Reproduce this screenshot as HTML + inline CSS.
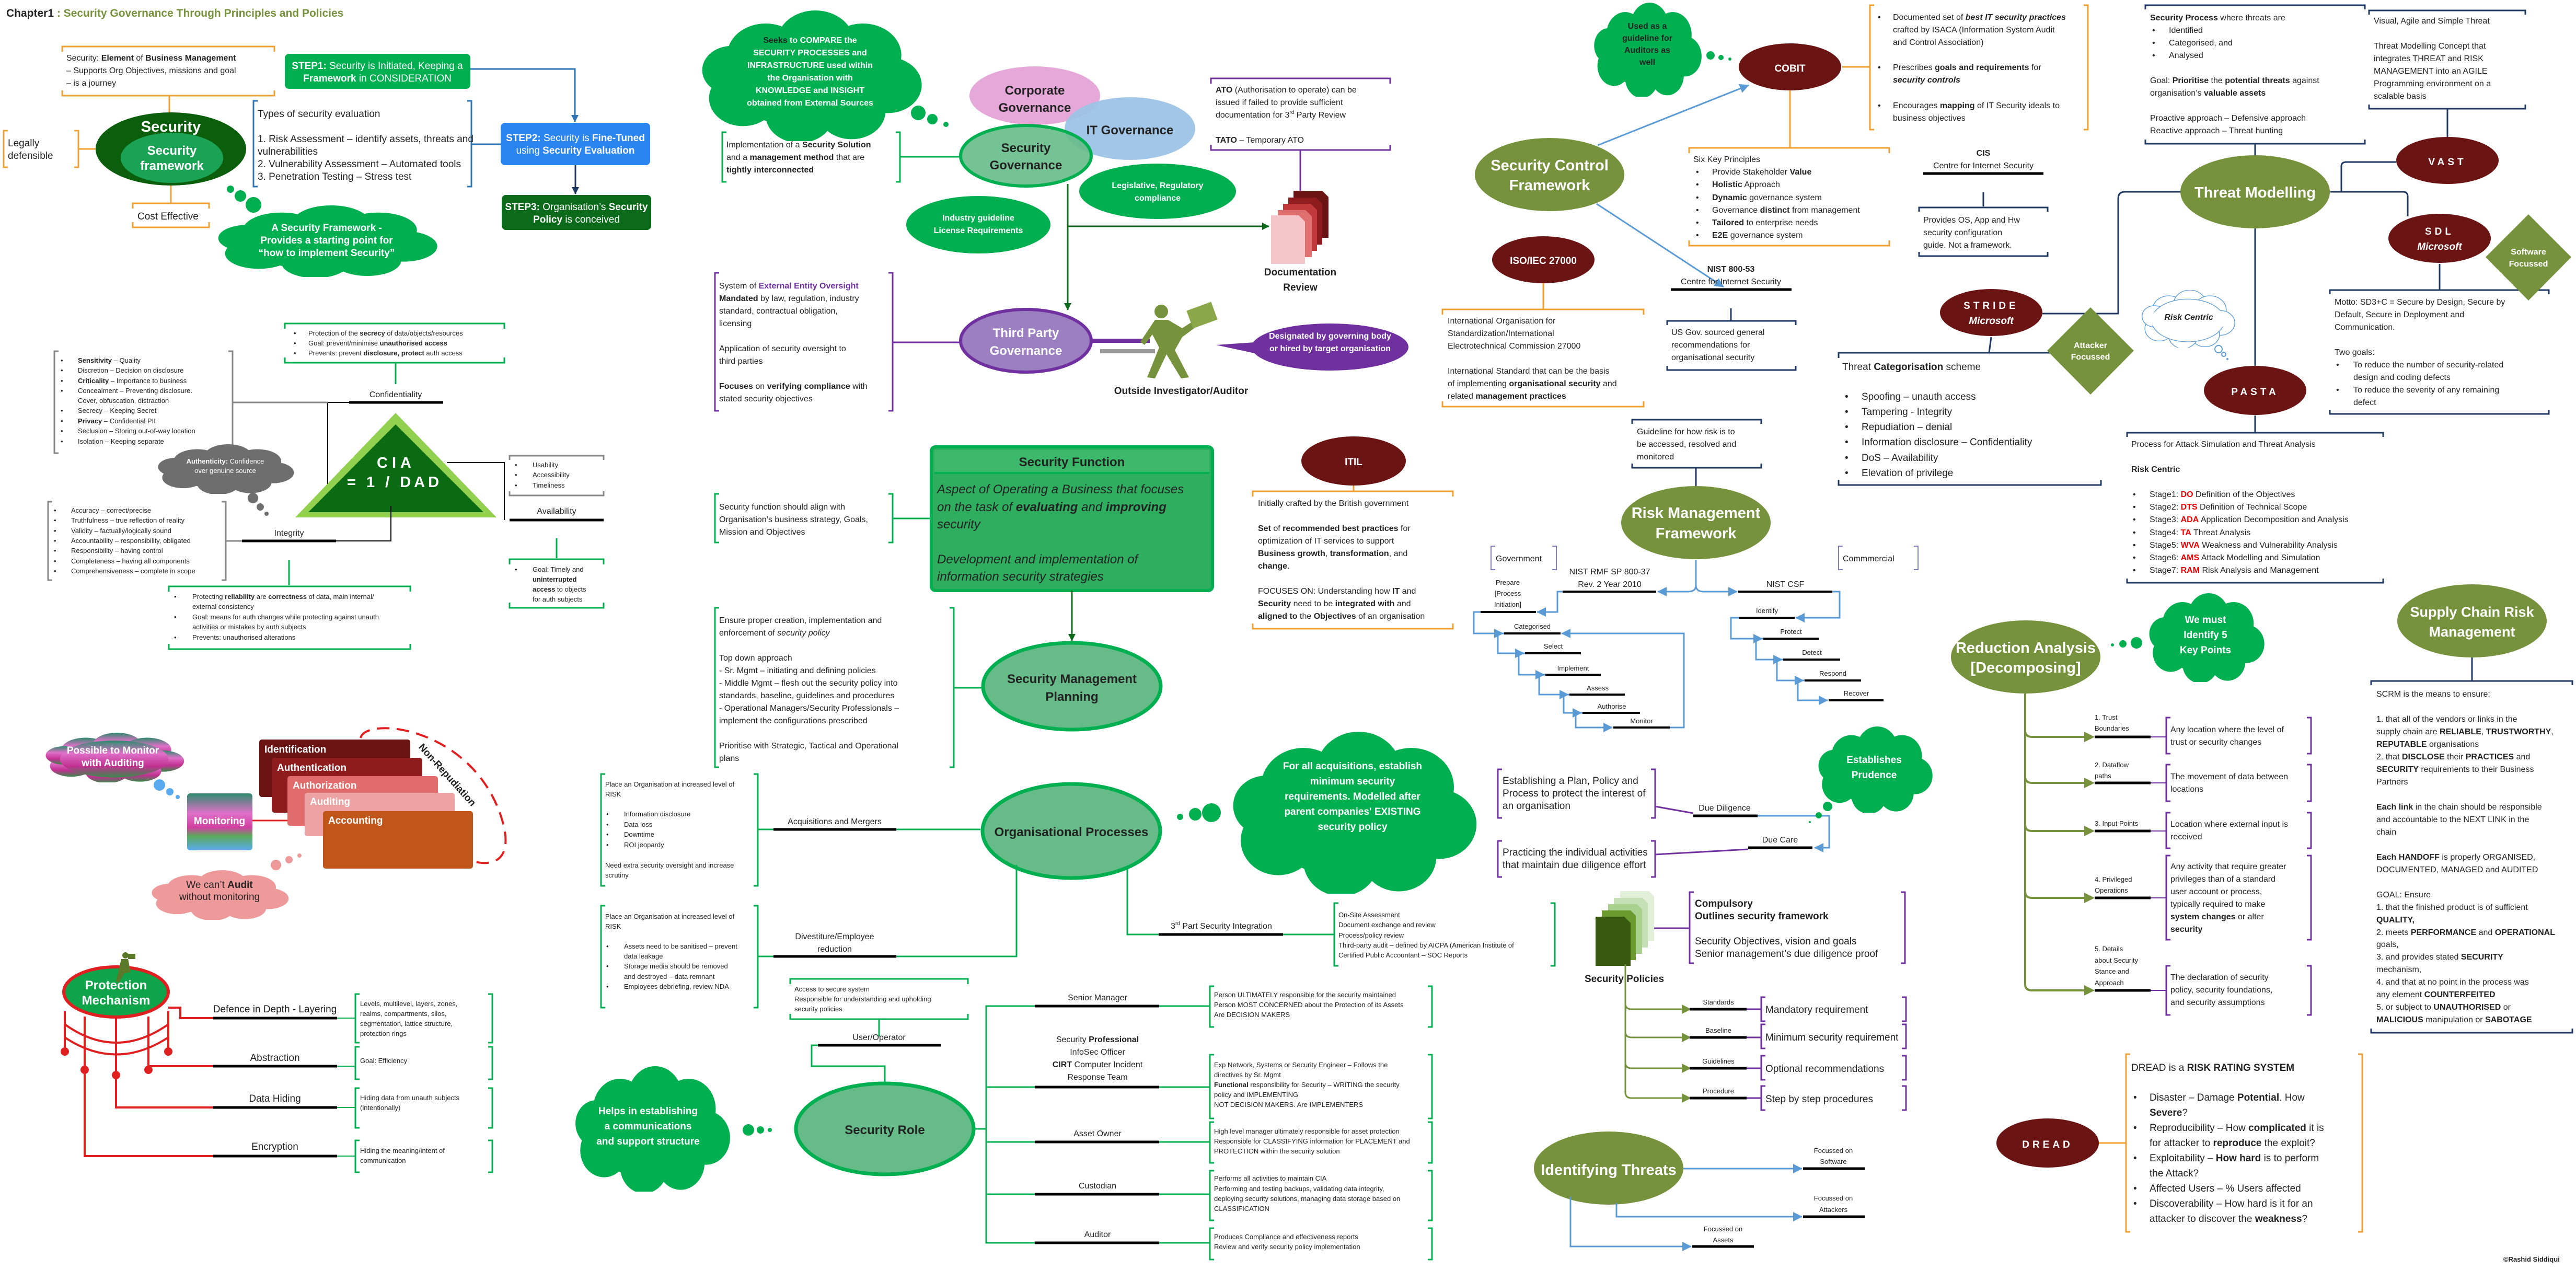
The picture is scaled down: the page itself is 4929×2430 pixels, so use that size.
<!DOCTYPE html>
<html><head><meta charset="utf-8"><style>
html,body{margin:0;padding:0;background:#fff;}
svg{display:block}
text{font-family:"Liberation Sans",sans-serif;font-size:16px;fill:#222}
.s{font-size:13px}.m{font-size:19px}.l{font-size:24px}.xl{font-size:29px}
.b{font-weight:bold}.i{font-style:italic}
.w{fill:#fff}.c{text-anchor:middle}
.hb,.vb{fill:none;stroke-width:3}
</style></head><body>
<svg width="4929" height="2430" viewBox="0 0 4929 2430" xmlns="http://www.w3.org/2000/svg">
<defs>
<symbol id="cl" viewBox="0 0 100 70" preserveAspectRatio="none">
<circle cx="30" cy="24" r="17"/><circle cx="52" cy="17" r="17"/><circle cx="73" cy="24" r="17"/><circle cx="84" cy="40" r="15"/><circle cx="68" cy="54" r="15"/><circle cx="45" cy="56" r="15"/><circle cx="20" cy="47" r="15"/><circle cx="15" cy="32" r="13"/><ellipse cx="50" cy="37" rx="38" ry="26"/>
</symbol>
<marker id="ab" markerWidth="8" markerHeight="8" refX="7" refY="4" orient="auto" markerUnits="userSpaceOnUse"><path d="M0,0 L8,4 L0,8z" fill="#5b9bd5"/></marker>
<marker id="abl" markerWidth="14" markerHeight="14" refX="13" refY="7" orient="auto" markerUnits="userSpaceOnUse"><path d="M0,0 L14,7 L0,14z" fill="#2e75b6"/></marker>
<marker id="abn" markerWidth="14" markerHeight="14" refX="13" refY="7" orient="auto" markerUnits="userSpaceOnUse"><path d="M0,0 L14,7 L0,14z" fill="#1f3864"/></marker>
<marker id="ag" markerWidth="14" markerHeight="14" refX="13" refY="7" orient="auto" markerUnits="userSpaceOnUse"><path d="M0,0 L14,7 L0,14z" fill="#0b6b1a"/></marker>
<marker id="ao" markerWidth="18" markerHeight="18" refX="17" refY="9" orient="auto" markerUnits="userSpaceOnUse"><path d="M0,0 L18,9 L0,18z" fill="#76923c"/></marker>
<marker id="ar" markerWidth="18" markerHeight="18" refX="17" refY="9" orient="auto" markerUnits="userSpaceOnUse"><path d="M0,0 L18,9 L0,18z" fill="#e02020"/></marker>
<marker id="abb" markerWidth="18" markerHeight="18" refX="17" refY="9" orient="auto" markerUnits="userSpaceOnUse"><path d="M0,0 L18,9 L0,18z" fill="#5b9bd5"/></marker>
</defs>
<rect width="4929" height="2430" fill="#fff"/>

<text x="12" y="32" class="m b" style="font-size:21px">Chapter1 <tspan fill="#76923c">: Security Governance Through Principles and Policies</tspan></text>

<!-- ===== TOP LEFT ===== -->
<path class="hb" stroke="#f0a030" d="M119,99 V89 H525 V99 M119,173 V183 H525 V173"/>
<text x="127" y="116">Security: <tspan class="b">Element</tspan> of <tspan class="b">Business Management</tspan></text>
<text x="127" y="140">– Supports Org Objectives, missions and goal</text>
<text x="127" y="164">– is a journey</text>
<line x1="324" y1="183" x2="324" y2="216" stroke="#f0a030" stroke-width="3"/>
<ellipse cx="327" cy="285" rx="144" ry="70" fill="#0b5e0b"/>
<text x="327" y="252" class="xl b w c">Security</text>
<ellipse cx="329" cy="302" rx="98" ry="48" fill="#1aa355"/>
<text x="329" y="296" class="l b w c">Security</text>
<text x="329" y="325" class="l b w c">framework</text>
<path class="vb" stroke="#f0a030" d="M15,250 H7 V320 H15 M142,250 H150 V320 H142 M150,285 H183"/>
<text x="15" y="280" class="m">Legally</text><text x="15" y="304" class="m">defensible</text>
<line x1="327" y1="355" x2="327" y2="389" stroke="#f0a030" stroke-width="3"/>
<path class="hb" stroke="#f0a030" d="M254,399 V389 H400 V399 M254,425 V435 H400 V425"/>
<text x="263" y="420" class="m">Cost Effective</text>
<rect x="545" y="103" width="355" height="67" rx="8" fill="#00b050"/>
<text x="722" y="132" class="m w c"><tspan class="b">STEP1:</tspan> Security is Initiated, Keeping a</text>
<text x="722" y="156" class="m w c"><tspan class="b">Framework</tspan> in CONSIDERATION</text>
<path class="vb" stroke="#2e75b6" d="M493,193 H485 V357 H493 M894,193 H902 V357 H894"/>
<text x="493" y="224" class="m">Types of security evaluation</text>
<text x="493" y="272" class="m">1. Risk Assessment – identify assets, threats and</text>
<text x="493" y="296" class="m">vulnerabilities</text>
<text x="493" y="320" class="m">2. Vulnerability Assessment – Automated tools</text>
<text x="493" y="344" class="m">3. Penetration Testing – Stress test</text>
<path d="M900,132 H1100 V233" stroke="#2e75b6" stroke-width="3" fill="none" marker-end="url(#abl)"/>
<line x1="902" y1="276" x2="958" y2="276" stroke="#2e75b6" stroke-width="3"/>
<rect x="958" y="235" width="286" height="81" rx="8" fill="#2a85f0"/>
<text x="1101" y="270" class="m w c"><tspan class="b">STEP2:</tspan> Security is <tspan class="b">Fine-Tuned</tspan></text>
<text x="1101" y="294" class="m w c">using <tspan class="b">Security Evaluation</tspan></text>
<line x1="1101" y1="316" x2="1101" y2="371" stroke="#1f3864" stroke-width="3" marker-end="url(#abn)"/>
<rect x="960" y="373" width="286" height="67" rx="8" fill="#0b6b1a"/>
<text x="1103" y="402" class="m w c"><tspan class="b">STEP3:</tspan> Organisation’s <tspan class="b">Security</tspan></text>
<text x="1103" y="426" class="m w c"><tspan class="b">Policy</tspan> is conceived</text>
<circle cx="441" cy="362" r="7" fill="#00b050"/><circle cx="460" cy="375" r="11" fill="#00b050"/><circle cx="485" cy="392" r="15" fill="#00b050"/>
<use href="#cl" x="409" y="393" width="432" height="137" fill="#00b050"/>
<text x="625" y="442" class="m b w c">A Security Framework  -</text>
<text x="625" y="466" class="m b w c">Provides a starting point for</text>
<text x="625" y="490" class="m b w c">“how to implement Security”</text>

<!-- ===== CIA ===== -->
<path class="hb" stroke="#00b050" d="M545,629 V619 H965 V629 M545,684 V694 H965 V684"/>
<g class="s"><text x="562" y="642" class="s">•</text><text x="590" y="642" class="s">Protection of the <tspan class="b">secrecy</tspan> of data/objects/resources</text>
<text x="562" y="661" class="s">•</text><text x="590" y="661" class="s">Goal: prevent/minimise <tspan class="b">unauthorised access</tspan></text>
<text x="562" y="680" class="s">•</text><text x="590" y="680" class="s">Prevents: prevent <tspan class="b">disclosure, protect</tspan> auth access</text></g>
<line x1="757" y1="694" x2="757" y2="735" stroke="#00b050" stroke-width="3"/>
<text x="757" y="760" class="c">Confidentiality</text>
<line x1="668" y1="770" x2="848" y2="770" stroke="#000" stroke-width="5"/>
<path d="M627,933 V770 H668" stroke="#000" stroke-width="2" fill="none"/>
<path class="vb" stroke="#888" stroke-width="2" d="M112,672 H104 V867 H112 M437,672 H445 V867 H437 M445,770 H627"/>
<g>
<text x="116" y="694" class="s">•</text><text x="149" y="694" class="s"><tspan class="b">Sensitivity</tspan> – Quality</text>
<text x="116" y="713" class="s">•</text><text x="149" y="713" class="s">Discretion – Decision on disclosure</text>
<text x="116" y="733" class="s">•</text><text x="149" y="733" class="s"><tspan class="b">Criticality</tspan> – Importance to business</text>
<text x="116" y="752" class="s">•</text><text x="149" y="752" class="s">Concealment – Preventing disclosure.</text>
<text x="149" y="771" class="s">Cover, obfuscation, distraction</text>
<text x="116" y="790" class="s">•</text><text x="149" y="790" class="s">Secrecy – Keeping Secret</text>
<text x="116" y="810" class="s">•</text><text x="149" y="810" class="s"><tspan class="b">Privacy</tspan> – Confidential PII</text>
<text x="116" y="829" class="s">•</text><text x="149" y="829" class="s">Seclusion – Storing out-of-way location</text>
<text x="116" y="849" class="s">•</text><text x="149" y="849" class="s">Isolation – Keeping separate</text>
</g>
<polygon points="757,790 950,990 565,990" fill="#92d050"/>
<polygon points="757,812 925,980 590,980" fill="#0a6b12"/>
<text x="758" y="895" class="xl b w c" letter-spacing="8">CIA</text>
<text x="755" y="932" class="xl b w c" letter-spacing="6">= 1 / DAD</text>
<use href="#cl" x="297" y="850" width="268" height="95" fill="#6e6e6e"/>
<text x="431" y="887" class="s b w c">Authenticity: <tspan font-weight="normal">Confidence</tspan></text>
<text x="431" y="905" class="s w c">over genuine source</text>
<circle cx="484" cy="953" r="10" fill="#6e6e6e"/><circle cx="498" cy="970" r="7" fill="#6e6e6e"/><circle cx="510" cy="983" r="4" fill="#6e6e6e"/>
<path class="vb" stroke="#888" stroke-width="2" d="M100,960 H92 V1110 H100 M424,960 H432 V1110 H424 M432,1035 H463"/>
<g>
<text x="103" y="981" class="s">•</text><text x="136" y="981" class="s">Accuracy – correct/precise</text>
<text x="103" y="1000" class="s">•</text><text x="136" y="1000" class="s">Truthfulness – true reflection of reality</text>
<text x="103" y="1020" class="s">•</text><text x="136" y="1020" class="s">Validity – factually/logically sound</text>
<text x="103" y="1039" class="s">•</text><text x="136" y="1039" class="s">Accountability – responsibility, obligated</text>
<text x="103" y="1058" class="s">•</text><text x="136" y="1058" class="s">Responsibility – having control</text>
<text x="103" y="1078" class="s">•</text><text x="136" y="1078" class="s">Completeness – having all components</text>
<text x="103" y="1097" class="s">•</text><text x="136" y="1097" class="s">Comprehensiveness – complete in scope</text>
</g>
<text x="553" y="1025" class="c">Integrity</text>
<line x1="463" y1="1035" x2="643" y2="1035" stroke="#000" stroke-width="5"/>
<path d="M643,1035 H748 V968" stroke="#000" stroke-width="2" fill="none"/>
<line x1="553" y1="1072" x2="553" y2="1120" stroke="#00b050" stroke-width="3"/>
<path class="hb" stroke="#00b050" d="M323,1132 V1122 H785 V1132 M323,1232 V1242 H785 V1232"/>
<text x="333" y="1146" class="s">•</text><text x="368" y="1146" class="s">Protecting <tspan class="b">reliability</tspan> are <tspan class="b">correctness</tspan> of data, main internal/</text>
<text x="368" y="1165" class="s">external consistency</text>
<text x="333" y="1185" class="s">•</text><text x="368" y="1185" class="s">Goal: means for auth changes while protecting against unauth</text>
<text x="368" y="1204" class="s">activities or mistakes by auth subjects</text>
<text x="333" y="1224" class="s">•</text><text x="368" y="1224" class="s">Prevents: unauthorised alterations</text>
<path d="M855,885 H965 V995" stroke="#000" stroke-width="2" fill="none"/>
<path class="hb" stroke="#888" stroke-width="2" d="M975,880 V872 H1155 V880 M975,940 V948 H1155 V940"/>
<text x="985" y="894" class="s">•</text><text x="1019" y="894" class="s">Usability</text>
<text x="985" y="913" class="s">•</text><text x="1019" y="913" class="s">Accessibility</text>
<text x="985" y="933" class="s">•</text><text x="1019" y="933" class="s">Timeliness</text>
<text x="1065" y="983" class="c">Availability</text>
<line x1="975" y1="995" x2="1155" y2="995" stroke="#000" stroke-width="5"/>
<line x1="1065" y1="1030" x2="1065" y2="1068" stroke="#00b050" stroke-width="3"/>
<path class="hb" stroke="#00b050" d="M975,1080 V1070 H1155 V1080 M975,1153 V1163 H1155 V1153"/>
<text x="985" y="1094" class="s">•</text><text x="1019" y="1094" class="s">Goal: Timely and</text>
<text x="1019" y="1113" class="s b">uninterrupted</text>
<text x="1019" y="1132" class="s"><tspan class="b">access</tspan> to objects</text>
<text x="1019" y="1151" class="s">for auth subjects</text>

<!-- ===== AAA ===== -->
<defs><linearGradient id="pg" x1="0" y1="0" x2="0" y2="1"><stop offset="0" stop-color="#2e8b6e"/><stop offset="0.35" stop-color="#e070c8"/><stop offset="0.7" stop-color="#c03090"/><stop offset="1" stop-color="#3a8a4a"/></linearGradient>
<linearGradient id="mg" x1="0" y1="0" x2="0" y2="1"><stop offset="0" stop-color="#2e8b6e"/><stop offset="0.35" stop-color="#e070c8"/><stop offset="0.6" stop-color="#d040a0"/><stop offset="0.75" stop-color="#5aaa5a"/><stop offset="1" stop-color="#5aaaf0"/></linearGradient></defs>
<use href="#cl" x="82" y="1402" width="273" height="95" fill="url(#pg)"/>
<text x="216" y="1442" class="m b w c">Possible to Monitor</text>
<text x="216" y="1466" class="m b w c">with Auditing</text>
<circle cx="305" cy="1502" r="11" fill="#5aaaf0"/><circle cx="325" cy="1515" r="7" fill="#5aaaf0"/><circle cx="340" cy="1525" r="4" fill="#5aaaf0"/>
<rect x="358" y="1518" width="125" height="109" rx="6" fill="url(#mg)"/>
<text x="420" y="1577" class="m b w c">Monitoring</text>
<line x1="483" y1="1570" x2="578" y2="1570" stroke="#e02020" stroke-width="3" marker-end="url(#ar)"/>
<rect x="496" y="1415" width="289" height="110" rx="5" fill="#6b1414"/>
<text x="506" y="1440" class="m b w">Identification</text>
<rect x="520" y="1450" width="288" height="105" rx="5" fill="#8e1c1c"/>
<text x="530" y="1475" class="m b w">Authentication</text>
<rect x="550" y="1485" width="288" height="95" rx="5" fill="#e06c6c"/>
<text x="560" y="1509" class="m b w">Authorization</text>
<rect x="583" y="1517" width="287" height="83" rx="5" fill="#eda3a3"/>
<text x="593" y="1540" class="m b w">Auditing</text>
<rect x="618" y="1552" width="287" height="110" rx="5" fill="#c0561a"/>
<text x="628" y="1576" class="m b w">Accounting</text>
<path d="M690,1412 C700,1370 900,1390 958,1560 C985,1640 950,1660 905,1648" stroke="#e02020" stroke-width="4" stroke-dasharray="24,14" fill="none"/>
<text x="800" y="1430" class="m b" transform="rotate(48 800 1430)">Non-Repudiation</text>
<use href="#cl" x="285" y="1665" width="270" height="95" fill="#ef9a9a"/>
<text x="420" y="1699" class="m c">We can’t <tspan class="b">Audit</tspan></text>
<text x="420" y="1722" class="m c">without monitoring</text>
<circle cx="528" cy="1655" r="10" fill="#ef9a9a"/><circle cx="553" cy="1645" r="7" fill="#ef9a9a"/><circle cx="573" cy="1637" r="4" fill="#ef9a9a"/>

<!-- ===== Protection ===== -->
<g stroke="#e02020" stroke-width="4" fill="none">
<path d="M124,1935 V2012 M162,1945 V2047 M222,1948 V2057 M284,1945 V2047 M322,1935 V2012"/>
<path d="M124,1960 Q222,2030 322,1960 M124,1985 Q222,2050 322,1985"/>
<path d="M322,1928 H345 V1948 H408 M284,2040 H408 M222,2057 V2119 H408 M162,2047 V2212 H408"/>
</g>
<g fill="#e02020"><circle cx="124" cy="2012" r="8"/><circle cx="162" cy="2047" r="8"/><circle cx="222" cy="2057" r="8"/><circle cx="284" cy="2047" r="8"/><circle cx="322" cy="2012" r="8"/></g>
<ellipse cx="222" cy="1898" rx="100" ry="48" fill="#0fa34a" stroke="#e02020" stroke-width="6"/>
<text x="222" y="1893" class="l b w c">Protection</text>
<text x="222" y="1922" class="l b w c">Mechanism</text>
<g fill="#5a7a2a"><circle cx="240" cy="1828" r="6"/><path d="M232,1835 L245,1835 L250,1860 L238,1862 L228,1880 L222,1878z"/><rect x="245" y="1825" width="14" height="10"/></g>
<text x="526" y="1937" class="m c">Defence in Depth - Layering</text>
<text x="526" y="2030" class="m c">Abstraction</text>
<text x="526" y="2108" class="m c">Data Hiding</text>
<text x="526" y="2200" class="m c">Encryption</text>
<g stroke="#000" stroke-width="5"><line x1="408" y1="1948" x2="645" y2="1948"/><line x1="408" y1="2040" x2="645" y2="2040"/><line x1="408" y1="2119" x2="645" y2="2119"/><line x1="408" y1="2212" x2="645" y2="2212"/></g>
<g stroke="#00b050" stroke-width="2"><line x1="645" y1="1948" x2="680" y2="1948"/><line x1="645" y1="2040" x2="680" y2="2040"/><line x1="645" y1="2119" x2="680" y2="2119"/><line x1="645" y1="2212" x2="680" y2="2212"/></g>
<path class="vb" stroke="#00b050" d="M688,1902 H680 V1995 H688 M934,1902 H942 V1995 H934 M688,2003 H680 V2065 H688 M934,2003 H942 V2065 H934 M688,2082 H680 V2158 H688 M934,2082 H942 V2158 H934 M688,2182 H680 V2243 H688 M934,2182 H942 V2243 H934"/>
<text x="689" y="1925" class="s">Levels, multilevel, layers, zones,</text>
<text x="689" y="1944" class="s">realms, compartments, silos,</text>
<text x="689" y="1963" class="s">segmentation, lattice structure,</text>
<text x="689" y="1982" class="s">protection rings</text>
<text x="689" y="2034" class="s">Goal: Efficiency</text>
<text x="689" y="2105" class="s">Hiding data from unauth subjects</text>
<text x="689" y="2124" class="s">(intentionally)</text>
<text x="689" y="2206" class="s">Hiding the meaning/intent of</text>
<text x="689" y="2225" class="s">communication</text>

<!-- ===== Governance ===== -->
<use href="#cl" x="1335" y="20" width="433" height="250" fill="#00b050"/>
<g class="b">
<text x="1550" y="82" class="c"><tspan class="b">Seeks</tspan><tspan class="w"> to COMPARE the</tspan></text>
<text x="1550" y="106" class="c w">SECURITY PROCESSES and</text>
<text x="1550" y="130" class="c w">INFRASTRUCTURE used within</text>
<text x="1550" y="154" class="c w">the Organisation with</text>
<text x="1550" y="178" class="c w">KNOWLEDGE and INSIGHT</text>
<text x="1550" y="202" class="c w">obtained from External Sources</text>
</g>
<circle cx="1757" cy="216" r="14" fill="#00b050"/><circle cx="1784" cy="228" r="10" fill="#00b050"/><circle cx="1810" cy="238" r="5" fill="#00b050"/>
<path class="vb" stroke="#00b050" d="M1390,253 H1382 V348 H1390 M1714,253 H1722 V348 H1714 M1722,300 H1840"/>
<text x="1390" y="282">Implementation of a <tspan class="b">Security Solution</tspan></text>
<text x="1390" y="306">and a <tspan class="b">management method</tspan> that are</text>
<text x="1390" y="330" class="b">tightly interconnected</text>
<ellipse cx="1980" cy="183" rx="125" ry="56" fill="#e6a8d8"/>
<text x="1980" y="181" class="l b c">Corporate</text>
<text x="1980" y="214" class="l b c">Governance</text>
<ellipse cx="2162" cy="246" rx="125" ry="60" fill="#9dc3e6" opacity="0.95"/>
<text x="2162" y="257" class="l b c">IT Governance</text>
<ellipse cx="1963" cy="298" rx="125" ry="58" fill="#66bb88" fill-opacity="0.9" stroke="#00b050" stroke-width="6"/>
<text x="1963" y="291" class="l b c">Security</text>
<text x="1963" y="324" class="l b c">Governance</text>
<ellipse cx="1872" cy="430" rx="138" ry="55" fill="#00b050"/>
<text x="1872" y="422" class="b w c">Industry guideline</text>
<text x="1872" y="446" class="b w c">License Requirements</text>
<ellipse cx="2215" cy="366" rx="150" ry="53" fill="#00b050"/>
<text x="2215" y="360" class="b w c">Legislative, Regulatory</text>
<text x="2215" y="384" class="b w c">compliance</text>
<line x1="2043" y1="352" x2="2043" y2="593" stroke="#0b6b1a" stroke-width="3" marker-end="url(#ag)"/>
<line x1="2043" y1="433" x2="2428" y2="433" stroke="#0b6b1a" stroke-width="3" marker-end="url(#ag)"/>
<path class="hb" stroke="#7030a0" d="M2317,160 V150 H2660 V160 M2317,277 V287 H2660 V277"/>
<text x="2326" y="177"><tspan class="b">ATO</tspan> (Authorisation to operate) can be</text>
<text x="2326" y="201">issued if failed to provide sufficient</text>
<text x="2326" y="225">documentation for 3<tspan font-size="10" dy="-7">rd</tspan><tspan dy="7"> Party Review</tspan></text>
<text x="2326" y="273"><tspan class="b">TATO</tspan> – Temporary ATO</text>
<line x1="2488" y1="287" x2="2488" y2="368" stroke="#7030a0" stroke-width="3"/>
<g>
<path d="M2475,365 H2530 L2542,377 V455 H2475z" fill="#6b1414"/>
<path d="M2465,378 H2518 L2530,390 V468 H2465z" fill="#8e1c1c"/>
<path d="M2455,390 H2508 L2520,402 V480 H2455z" fill="#c0393b"/>
<path d="M2445,402 H2498 L2510,414 V492 H2445z" fill="#e07070"/>
<path d="M2432,412 H2485 L2497,424 V505 H2432z" fill="#f4c6c9"/>
</g>
<text x="2488" y="527" class="m b c">Documentation</text>
<text x="2488" y="556" class="m b c">Review</text>
<path class="vb" stroke="#7030a0" d="M1376,522 H1368 V786 H1376 M1700,522 H1708 V786 H1700 M1708,655 H1836"/>
<text x="1376" y="552">System of <tspan class="b" fill="#7030a0">External Entity Oversight</tspan></text>
<text x="1376" y="576"><tspan class="b">Mandated</tspan> by law, regulation, industry</text>
<text x="1376" y="600">standard, contractual obligation,</text>
<text x="1376" y="624">licensing</text>
<text x="1376" y="672">Application of security oversight to</text>
<text x="1376" y="696">third parties</text>
<text x="1376" y="744"><tspan class="b">Focuses</tspan> on <tspan class="b">verifying compliance</tspan> with</text>
<text x="1376" y="768">stated security objectives</text>
<ellipse cx="1963" cy="652" rx="125" ry="60" fill="#9b7fc0" stroke="#7030a0" stroke-width="6"/>
<text x="1963" y="645" class="l b w c">Third Party</text>
<text x="1963" y="679" class="l b w c">Governance</text>
<line x1="2088" y1="652" x2="2200" y2="652" stroke="#7030a0" stroke-width="8"/>
<line x1="2105" y1="672" x2="2210" y2="672" stroke="#999" stroke-width="8"/>
<g fill="#76923c">
<circle cx="2222" cy="596" r="13"/>
<path d="M2210,612 L2235,612 L2262,628 L2290,610 L2296,620 L2262,645 L2248,670 L2275,722 L2260,724 L2232,678 L2210,724 L2195,722 L2218,665 L2205,640 L2190,660 L2182,654 z"/>
<rect x="2275" y="585" width="50" height="36" transform="rotate(-20 2300 603)" fill="#8aa84a"/>
</g>
<text x="2260" y="754" class="m b c" fill="#76923c">Outside Investigator/Auditor</text>
<ellipse cx="2545" cy="664" rx="150" ry="45" fill="#7030a0"/>
<path d="M2400,655 L2327,660 L2410,678z" fill="#7030a0"/>
<text x="2545" y="648" class="b w c">Designated by governing body</text>
<text x="2545" y="672" class="b w c">or hired by target organisation</text>

<!-- ===== Security Function ===== -->
<rect x="1782" y="855" width="538" height="275" rx="8" fill="#2fae60" stroke="#00b050" stroke-width="6"/>
<rect x="1788" y="861" width="526" height="44" fill="#3cb86a"/>
<line x1="1788" y1="905" x2="2314" y2="905" stroke="#00b050" stroke-width="4"/>
<text x="2051" y="892" class="l b c">Security Function</text>
<text x="1793" y="944" class="l i">Aspect of Operating a Business that focuses</text>
<text x="1793" y="978" class="l i">on the task of <tspan class="b">evaluating</tspan> and <tspan class="b">improving</tspan></text>
<text x="1793" y="1011" class="l i">security</text>
<text x="1793" y="1078" class="l i">Development and implementation of</text>
<text x="1793" y="1111" class="l i">information security strategies</text>
<path class="vb" stroke="#00b050" d="M1376,945 H1368 V1038 H1376 M1700,945 H1708 V1038 H1700 M1708,992 H1782"/>
<text x="1376" y="975">Security function should align with</text>
<text x="1376" y="999">Organisation’s business strategy, Goals,</text>
<text x="1376" y="1023">Mission and Objectives</text>
<line x1="2051" y1="1130" x2="2051" y2="1226" stroke="#0b6b1a" stroke-width="3" marker-end="url(#ag)"/>
<ellipse cx="2051" cy="1313" rx="170" ry="83" fill="#66bb88" stroke="#00b050" stroke-width="7"/>
<text x="2051" y="1307" class="l b c">Security Management</text>
<text x="2051" y="1341" class="l b c">Planning</text>
<path class="vb" stroke="#00b050" d="M1376,1163 H1368 V1468 H1376 M1817,1163 H1825 V1468 H1817 M1825,1316 H1879"/>
<text x="1376" y="1192">Ensure proper creation, implementation and</text>
<text x="1376" y="1216">enforcement of <tspan class="i">security policy</tspan></text>
<text x="1376" y="1264">Top down approach</text>
<text x="1376" y="1288"> - Sr. Mgmt – initiating and defining policies</text>
<text x="1376" y="1312"> - Middle Mgmt – flesh out the security policy into</text>
<text x="1376" y="1336">standards, baseline, guidelines and procedures</text>
<text x="1376" y="1360"> - Operational Managers/Security Professionals –</text>
<text x="1376" y="1384">implement the configurations prescribed</text>
<text x="1376" y="1432">Prioritise with Strategic, Tactical and Operational</text>
<text x="1376" y="1456">plans</text>

<!-- ===== ITIL ===== -->
<ellipse cx="2590" cy="882" rx="100" ry="47" fill="#6b1414"/>
<text x="2590" y="890" class="m b w c">ITIL</text>
<line x1="2590" y1="929" x2="2590" y2="940" stroke="#f0a030" stroke-width="3"/>
<path class="hb" stroke="#f0a030" d="M2397,950 V940 H2780 V950 M2397,1193 V1203 H2780 V1193"/>
<text x="2407" y="968">Initially crafted by the British government</text>
<text x="2407" y="1016"><tspan class="b">Set</tspan> of <tspan class="b">recommended best practices</tspan> for</text>
<text x="2407" y="1040">optimization of IT services to support</text>
<text x="2407" y="1064"><tspan class="b">Business growth</tspan>, <tspan class="b">transformation</tspan>, and</text>
<text x="2407" y="1088"><tspan class="b">change</tspan>.</text>
<text x="2407" y="1136">FOCUSES ON: Understanding how <tspan class="b">IT</tspan> and</text>
<text x="2407" y="1160"><tspan class="b">Security</tspan> need to be <tspan class="b">integrated with</tspan> and</text>
<text x="2407" y="1184"><tspan class="b">aligned to</tspan> the <tspan class="b">Objectives</tspan> of an organisation</text>

<!-- ===== Org Processes ===== -->
<use href="#cl" x="2350" y="1400" width="480" height="310" fill="#00b050"/>
<g class="m b">
<text x="2588" y="1472" class="m b w c">For all acquisitions, establish</text>
<text x="2588" y="1501" class="m b w c">minimum security</text>
<text x="2588" y="1530" class="m b w c">requirements. Modelled after</text>
<text x="2588" y="1559" class="m b w c">parent companies' EXISTING</text>
<text x="2588" y="1588" class="m b w c">security policy</text>
</g>
<circle cx="2258" cy="1563" r="6" fill="#00b050"/><circle cx="2287" cy="1558" r="12" fill="#00b050"/><circle cx="2318" cy="1555" r="18" fill="#00b050"/>
<ellipse cx="2050" cy="1590" rx="170" ry="90" fill="#66bb88" stroke="#00b050" stroke-width="7"/>
<text x="2050" y="1600" class="l b c">Organisational Processes</text>
<path class="vb" stroke="#00b050" d="M1158,1481 H1150 V1695 H1158 M1442,1481 H1450 V1695 H1442 M1158,1733 H1150 V1928 H1158 M1442,1733 H1450 V1928 H1442"/>
<text x="1158" y="1505" class="s">Place an Organisation at increased level of</text>
<text x="1158" y="1524" class="s">RISK</text>
<text x="1160" y="1562" class="s">•</text><text x="1194" y="1562" class="s">Information disclosure</text>
<text x="1160" y="1582" class="s">•</text><text x="1194" y="1582" class="s">Data loss</text>
<text x="1160" y="1601" class="s">•</text><text x="1194" y="1601" class="s">Downtime</text>
<text x="1160" y="1621" class="s">•</text><text x="1194" y="1621" class="s">ROI jeopardy</text>
<text x="1158" y="1660" class="s">Need extra security oversight and increase</text>
<text x="1158" y="1679" class="s">scrutiny</text>
<text x="1158" y="1758" class="s">Place an Organisation at increased level of</text>
<text x="1158" y="1777" class="s">RISK</text>
<text x="1160" y="1815" class="s">•</text><text x="1194" y="1815" class="s">Assets need to be sanitised – prevent</text>
<text x="1194" y="1834" class="s">data leakage</text>
<text x="1160" y="1853" class="s">•</text><text x="1194" y="1853" class="s">Storage media should be removed</text>
<text x="1194" y="1873" class="s">and destroyed – data remnant</text>
<text x="1160" y="1892" class="s">•</text><text x="1194" y="1892" class="s">Employees debriefing, review NDA</text>
<path d="M1450,1587 H1876 M1450,1830 H1945 V1655 M2157,1660 V1788 H2553" stroke="#00b050" stroke-width="3" fill="none"/>
<text x="1597" y="1577" class="c">Acquisitions and Mergers</text>
<text x="1597" y="1797" class="c">Divestiture/Employee</text>
<text x="1597" y="1821" class="c">reduction</text>
<text x="2337" y="1777" class="c">3<tspan font-size="10" dy="-7">rd</tspan><tspan dy="7"> Part Security Integration</tspan></text>
<g stroke="#000" stroke-width="5"><line x1="1480" y1="1587" x2="1715" y2="1587"/><line x1="1480" y1="1830" x2="1715" y2="1830"/><line x1="2217" y1="1788" x2="2455" y2="1788"/></g>
<path class="vb" stroke="#00b050" d="M2561,1728 H2553 V1848 H2561 M2967,1728 H2975 V1848 H2967"/>
<text x="2561" y="1755" class="s">On-Site Assessment</text>
<text x="2561" y="1774" class="s">Document exchange and review</text>
<text x="2561" y="1794" class="s">Process/policy review</text>
<text x="2561" y="1813" class="s">Third-party audit – defined by AICPA (American Institute of</text>
<text x="2561" y="1832" class="s">Certified Public Accountant – SOC Reports</text>

<!-- ===== Security Role ===== -->
<path class="hb" stroke="#00b050" d="M1512,1883 V1873 H1852 V1883 M1512,1940 V1950 H1852 V1940"/>
<text x="1520" y="1897" class="s">Access to secure system</text>
<text x="1520" y="1916" class="s">Responsible for understanding and upholding</text>
<text x="1520" y="1935" class="s">security policies</text>
<line x1="1682" y1="1950" x2="1682" y2="1983" stroke="#00b050" stroke-width="3"/>
<text x="1682" y="1990" class="c">User/Operator</text>
<line x1="1565" y1="2000" x2="1800" y2="2000" stroke="#000" stroke-width="5"/>
<path d="M1565,2000 H1553 V2040 H1693 V2075" stroke="#00b050" stroke-width="3" fill="none"/>
<ellipse cx="1693" cy="2160" rx="170" ry="87" fill="#66bb88" stroke="#00b050" stroke-width="7"/>
<text x="1693" y="2170" class="l b c">Security Role</text>
<use href="#cl" x="1095" y="2040" width="305" height="240" fill="#00b050"/>
<text x="1240" y="2132" class="m b w c">Helps in establishing</text>
<text x="1240" y="2161" class="m b w c">a communications</text>
<text x="1240" y="2190" class="m b w c">and support structure</text>
<circle cx="1432" cy="2162" r="11" fill="#00b050"/><circle cx="1455" cy="2162" r="7" fill="#00b050"/><circle cx="1473" cy="2162" r="4" fill="#00b050"/>
<path d="M1866,2160 H1887 M1897,1925 H1887 V2378 H1980 M1887,2080 H1980 M1887,2185 H1980 M1887,2285 H1980 M1887,1925 H1980 M2218,1925 H2315 M2218,2080 H2315 M2218,2185 H2315 M2218,2285 H2315 M2218,2378 H2315" stroke="#00b050" stroke-width="3" fill="none"/>
<g stroke="#000" stroke-width="5"><line x1="1980" y1="1925" x2="2218" y2="1925"/><line x1="1980" y1="2080" x2="2218" y2="2080"/><line x1="1980" y1="2185" x2="2218" y2="2185"/><line x1="1980" y1="2285" x2="2218" y2="2285"/><line x1="1980" y1="2378" x2="2218" y2="2378"/></g>
<text x="2100" y="1914" class="c">Senior Manager</text>
<text x="2100" y="1994" class="c">Security <tspan class="b">Professional</tspan></text>
<text x="2100" y="2018" class="c">InfoSec Officer</text>
<text x="2100" y="2042" class="c"><tspan class="b">CIRT</tspan> Computer Incident</text>
<text x="2100" y="2066" class="c">Response Team</text>
<text x="2100" y="2174" class="c">Asset Owner</text>
<text x="2100" y="2274" class="c">Custodian</text>
<text x="2100" y="2367" class="c">Auditor</text>
<path class="vb" stroke="#00b050" d="M2323,1887 H2315 V1965 H2323 M2732,1887 H2740 V1965 H2732 M2323,2018 H2315 V2140 H2323 M2732,2018 H2740 V2140 H2732 M2323,2147 H2315 V2225 H2323 M2732,2147 H2740 V2225 H2732 M2323,2240 H2315 V2335 H2323 M2732,2240 H2740 V2335 H2732 M2323,2350 H2315 V2410 H2323 M2732,2350 H2740 V2410 H2732"/>
<g>
<text x="2323" y="1908" class="s">Person ULTIMATELY responsible for the security maintained</text>
<text x="2323" y="1927" class="s">Person MOST CONCERNED about the Protection of its Assets</text>
<text x="2323" y="1946" class="s">Are DECISION MAKERS</text>
<text x="2323" y="2042" class="s">Exp Network, Systems or Security Engineer – Follows the</text>
<text x="2323" y="2061" class="s">directives by Sr. Mgmt</text>
<text x="2323" y="2080" class="s"><tspan class="b">Functional</tspan> responsibility for Security – WRITING the security</text>
<text x="2323" y="2099" class="s">policy and IMPLEMENTING</text>
<text x="2323" y="2118" class="s">NOT DECISION MAKERS. Are IMPLEMENTERS</text>
<text x="2323" y="2169" class="s">High level manager ultimately responsible for asset protection</text>
<text x="2323" y="2188" class="s">Responsible for CLASSIFYING information for PLACEMENT and</text>
<text x="2323" y="2207" class="s">PROTECTION within the security solution</text>
<text x="2323" y="2259" class="s">Performs all activities to maintain CIA</text>
<text x="2323" y="2279" class="s">Performing and testing backups, validating data integrity,</text>
<text x="2323" y="2298" class="s">deploying security solutions, managing data storage based on</text>
<text x="2323" y="2317" class="s">CLASSIFICATION</text>
<text x="2323" y="2371" class="s">Produces Compliance and effectiveness reports</text>
<text x="2323" y="2390" class="s">Review and verify security policy implementation</text>
</g>

<!-- ===== Control frameworks ===== -->
<use href="#cl" x="3046" y="5" width="212" height="180" fill="#00b050"/>
<text x="3152" y="55" class="b c">Used as a</text>
<text x="3152" y="78" class="b c">guideline for</text>
<text x="3152" y="101" class="b c">Auditors as</text>
<text x="3152" y="124" class="b c">well</text>
<circle cx="3273" cy="106" r="8" fill="#00b050"/><circle cx="3293" cy="110" r="5" fill="#00b050"/><circle cx="3310" cy="113" r="3" fill="#00b050"/>
<ellipse cx="3425" cy="128" rx="98" ry="45" fill="#6b1414"/>
<text x="3425" y="137" class="m b w c">COBIT</text>
<path d="M3525,128 H3578 M3425,173 V283" stroke="#f0a030" stroke-width="3"/>
<path class="vb" stroke="#f0a030" d="M3586,10 H3578 V248 H3586 M3987,10 H3995 V248 H3987"/>
<text x="3593" y="38">•</text><text x="3622" y="38">Documented set of <tspan class="b i">best IT security practices</tspan></text>
<text x="3622" y="62">crafted by ISACA (Information System Audit</text>
<text x="3622" y="86">and Control Association)</text>
<text x="3593" y="134">•</text><text x="3622" y="134">Prescribes <tspan class="b">goals and requirements</tspan> for</text>
<text x="3622" y="158" class="b i">security controls</text>
<text x="3593" y="207">•</text><text x="3622" y="207">Encourages <tspan class="b">mapping</tspan> of IT Security ideals to</text>
<text x="3622" y="231">business objectives</text>
<path class="hb" stroke="#f0a030" d="M3232,293 V283 H3615 V293 M3232,460 V470 H3615 V460"/>
<text x="3240" y="310">Six Key Principles</text>
<g>
<text x="3245" y="334">•</text><text x="3276" y="334">Provide Stakeholder <tspan class="b">Value</tspan></text>
<text x="3245" y="358">•</text><text x="3276" y="358"><tspan class="b">Holistic</tspan> Approach</text>
<text x="3245" y="383">•</text><text x="3276" y="383"><tspan class="b">Dynamic</tspan> governance system</text>
<text x="3245" y="407">•</text><text x="3276" y="407">Governance <tspan class="b">distinct</tspan> from management</text>
<text x="3245" y="431">•</text><text x="3276" y="431"><tspan class="b">Tailored</tspan> to enterprise needs</text>
<text x="3245" y="455">•</text><text x="3276" y="455"><tspan class="b">E2E</tspan> governance system</text>
</g>
<line x1="3057" y1="278" x2="3346" y2="163" stroke="#5b9bd5" stroke-width="3" marker-end="url(#abb)"/>
<line x1="3055" y1="390" x2="3298" y2="549" stroke="#5b9bd5" stroke-width="3" marker-end="url(#abb)"/>
<ellipse cx="2965" cy="334" rx="143" ry="70" fill="#76923c"/>
<text x="2965" y="326" class="xl b w c">Security Control</text>
<text x="2965" y="364" class="xl b w c">Framework</text>
<text x="3795" y="298" class="b c">CIS</text>
<text x="3795" y="322" class="c">Centre for Internet Security</text>
<line x1="3680" y1="332" x2="3910" y2="332" stroke="#000" stroke-width="5"/>
<line x1="3795" y1="368" x2="3795" y2="395" stroke="#1f3864" stroke-width="3"/>
<path class="hb" stroke="#1f3864" d="M3672,405 V397 H3918 V405 M3672,482 V490 H3918 V482"/>
<text x="3680" y="426">Provides OS, App and Hw</text>
<text x="3680" y="450">security configuration</text>
<text x="3680" y="474">guide. Not a framework.</text>
<ellipse cx="2953" cy="497" rx="98" ry="45" fill="#6b1414"/>
<text x="2953" y="505" class="m b w c">ISO/IEC 27000</text>
<line x1="2953" y1="542" x2="2953" y2="592" stroke="#f0a030" stroke-width="3"/>
<path class="hb" stroke="#f0a030" d="M2760,602 V592 H3145 V602 M2760,768 V778 H3145 V768"/>
<text x="2770" y="619">International Organisation for</text>
<text x="2770" y="643">Standardization/International</text>
<text x="2770" y="667">Electrotechnical Commission 27000</text>
<text x="2770" y="715">International Standard that can be the basis</text>
<text x="2770" y="739">of implementing <tspan class="b">organisational security</tspan> and</text>
<text x="2770" y="763">related <tspan class="b">management practices</tspan></text>
<text x="3312" y="520" class="b c">NIST 800-53</text>
<text x="3312" y="544" class="c">Centre for Internet Security</text>
<line x1="3197" y1="554" x2="3428" y2="554" stroke="#000" stroke-width="5"/>
<line x1="3312" y1="590" x2="3312" y2="614" stroke="#1f3864" stroke-width="3"/>
<path class="hb" stroke="#1f3864" d="M3190,622 V614 H3436 V622 M3190,700 V708 H3436 V700"/>
<text x="3198" y="641">US Gov. sourced general</text>
<text x="3198" y="665">recommendations for</text>
<text x="3198" y="689">organisational security</text>

<!-- ===== RMF ===== -->
<path class="hb" stroke="#1f3864" d="M3123,811 V803 H3370 V811 M3123,887 V895 H3370 V887"/>
<text x="3132" y="831">Guideline for how risk is to</text>
<text x="3132" y="855">be accessed, resolved and</text>
<text x="3132" y="879">monitored</text>
<line x1="3245" y1="895" x2="3245" y2="932" stroke="#1f3864" stroke-width="3"/>
<ellipse cx="3245" cy="1000" rx="143" ry="70" fill="#76923c"/>
<text x="3245" y="991" class="xl b w c">Risk Management</text>
<text x="3245" y="1030" class="xl b w c">Framework</text>
<path d="M2861,1045 H2853 V1090 H2861 M2970,1045 H2978 V1090 H2970 M3526,1045 H3518 V1090 H3526 M3662,1045 H3670 V1090 H3662" stroke="#7f7fbf" stroke-width="2" fill="none"/>
<text x="2862" y="1074">Government</text>
<text x="3526" y="1074">Commmercial</text>
<text x="3080" y="1099" class="c">NIST RMF SP 800-37</text>
<text x="3080" y="1123" class="c">Rev. 2 Year 2010</text>
<text x="3416" y="1123" class="c">NIST CSF</text>
<text x="2885" y="1119" class="s c">Prepare</text><text x="2885" y="1140" class="s c">[Process</text><text x="2885" y="1161" class="s c">Initiation]</text>
<g class="s">
<text x="2932" y="1203" class="s c">Categorised</text><text x="2972" y="1241" class="s c">Select</text><text x="3010" y="1283" class="s c">Implement</text><text x="3057" y="1321" class="s c">Assess</text><text x="3084" y="1356" class="s c">Authorise</text><text x="3141" y="1384" class="s c">Monitor</text>
<text x="3381" y="1173" class="s c">Identify</text><text x="3427" y="1213" class="s c">Protect</text><text x="3467" y="1253" class="s c">Detect</text><text x="3507" y="1293" class="s c">Respond</text><text x="3552" y="1331" class="s c">Recover</text>
</g>
<g stroke="#000" stroke-width="4">
<line x1="2990" y1="1132" x2="3169" y2="1132"/><line x1="3326" y1="1132" x2="3506" y2="1132"/>
<line x1="2833" y1="1171" x2="2939" y2="1171"/><line x1="2878" y1="1212" x2="2986" y2="1212"/><line x1="2918" y1="1250" x2="3025" y2="1250"/><line x1="2957" y1="1291" x2="3063" y2="1291"/><line x1="3003" y1="1329" x2="3109" y2="1329"/><line x1="3028" y1="1364" x2="3138" y2="1364"/><line x1="3087" y1="1392" x2="3195" y2="1392"/>
<line x1="3328" y1="1182" x2="3434" y2="1182"/><line x1="3374" y1="1222" x2="3480" y2="1222"/><line x1="3412" y1="1262" x2="3521" y2="1262"/><line x1="3453" y1="1302" x2="3561" y2="1302"/><line x1="3499" y1="1340" x2="3604" y2="1340"/>
</g>
<g stroke="#5b9bd5" stroke-width="3" fill="none">
<path d="M3245,1072 V1120 Q3245,1132 3230,1132 H3172" marker-end="url(#abb)"/>
<path d="M3245,1120 Q3245,1132 3260,1132 H3324" marker-end="url(#abb)"/>
<path d="M2990,1132 H2980 V1171 H2941" marker-end="url(#abb)"/>
<path d="M2833,1171 H2820 V1212 H2876" marker-end="url(#abb)"/>
<path d="M2878,1212 H2866 V1250 H2916" marker-end="url(#abb)"/>
<path d="M2918,1250 H2906 V1291 H2955" marker-end="url(#abb)"/>
<path d="M2957,1291 H2945 V1329 H3001" marker-end="url(#abb)"/>
<path d="M3003,1329 H2992 V1364 H3026" marker-end="url(#abb)"/>
<path d="M3028,1364 H3015 V1392 H3085" marker-end="url(#abb)"/>
<path d="M3195,1392 H3222 V1212 H2988" marker-end="url(#abb)"/>
<path d="M3506,1132 H3520 V1182 H3436" marker-end="url(#abb)"/>
<path d="M3328,1182 H3312 V1222 H3372" marker-end="url(#abb)"/>
<path d="M3374,1222 H3360 V1262 H3410" marker-end="url(#abb)"/>
<path d="M3412,1262 H3400 V1302 H3451" marker-end="url(#abb)"/>
<path d="M3453,1302 H3440 V1340 H3497" marker-end="url(#abb)"/>
</g>

<!-- ===== Due diligence / policies ===== -->
<path class="vb" stroke="#7030a0" d="M2874,1472 H2866 V1565 H2874 M3159,1472 H3167 V1565 H3159 M2874,1609 H2866 V1678 H2874 M3159,1609 H3167 V1678 H3159"/>
<text x="2875" y="1500" class="m">Establishing a Plan, Policy and</text>
<text x="2875" y="1524" class="m">Process to protect the interest of</text>
<text x="2875" y="1548" class="m">an organisation</text>
<text x="2875" y="1637" class="m">Practicing the individual activities</text>
<text x="2875" y="1661" class="m">that maintain due diligence effort</text>
<path d="M3167,1543 L3240,1556 M3167,1635 L3345,1625" stroke="#7030a0" stroke-width="3"/>
<text x="3300" y="1551" class="c">Due Diligence</text>
<text x="3406" y="1612" class="c">Due Care</text>
<g stroke="#000" stroke-width="5"><line x1="3240" y1="1561" x2="3363" y2="1561"/><line x1="3345" y1="1622" x2="3468" y2="1622"/></g>
<path d="M3363,1561 H3500 V1622 H3472" stroke="#5b9bd5" stroke-width="3" fill="none" marker-end="url(#abb)"/>
<use href="#cl" x="3475" y="1390" width="225" height="165" fill="#00b050"/>
<text x="3586" y="1460" class="m b w c">Establishes</text>
<text x="3586" y="1489" class="m b w c">Prudence</text>
<circle cx="3497" cy="1543" r="9" fill="#00b050"/><circle cx="3480" cy="1560" r="6" fill="#00b050"/><circle cx="3463" cy="1573" r="2" fill="#00b050"/>
<g>
<path d="M3100,1705 H3155 L3165,1715 V1800 H3100z" fill="#e2f0d9"/>
<path d="M3088,1718 H3143 L3153,1728 V1813 H3088z" fill="#c5e0b4"/>
<path d="M3077,1730 H3132 L3142,1740 V1825 H3077z" fill="#a9d18e"/>
<path d="M3065,1742 H3120 L3130,1752 V1837 H3065z" fill="#6b9a2e"/>
<path d="M3053,1754 H3108 L3120,1766 V1848 H3053z" fill="#375a10"/>
</g>
<text x="3108" y="1879" class="m b c">Security Policies</text>
<line x1="3165" y1="1776" x2="3233" y2="1776" stroke="#7030a0" stroke-width="3"/>
<path class="vb" stroke="#7030a0" d="M3241,1707 H3233 V1843 H3241 M3637,1707 H3645 V1843 H3637"/>
<text x="3243" y="1735" class="m b">Compulsory</text>
<text x="3243" y="1759" class="m b">Outlines security framework</text>
<text x="3243" y="1807" class="m">Security Objectives, vision and goals</text>
<text x="3243" y="1831" class="m">Senior management’s due diligence proof</text>
<path d="M3110,1845 V2090 Q3110,2101 3122,2101 H3230 M3110,1920 Q3110,1931 3122,1931 H3230 M3110,1974 Q3110,1985 3122,1985 H3230 M3110,2033 Q3110,2044 3122,2044 H3230" stroke="#76923c" stroke-width="3" fill="none"/>
<g fill="#76923c"><path d="M3218,1922 L3236,1931 L3218,1940z"/><path d="M3218,1976 L3236,1985 L3218,1994z"/><path d="M3218,2035 L3236,2044 L3218,2053z"/><path d="M3218,2092 L3236,2101 L3218,2110z"/></g>
<g stroke="#000" stroke-width="5"><line x1="3233" y1="1931" x2="3342" y2="1931"/><line x1="3233" y1="1985" x2="3342" y2="1985"/><line x1="3233" y1="2044" x2="3342" y2="2044"/><line x1="3233" y1="2101" x2="3342" y2="2101"/></g>
<g stroke="#7030a0" stroke-width="3"><line x1="3342" y1="1931" x2="3370" y2="1931"/><line x1="3342" y1="1985" x2="3370" y2="1985"/><line x1="3342" y1="2044" x2="3370" y2="2044"/><line x1="3342" y1="2101" x2="3370" y2="2101"/></g>
<text x="3288" y="1922" class="s c">Standards</text><text x="3288" y="1976" class="s c">Baseline</text><text x="3288" y="2035" class="s c">Guidelines</text><text x="3288" y="2092" class="s c">Procedure</text>
<path class="vb" stroke="#7030a0" d="M3378,1908 H3370 V1954 H3378 M3639,1908 H3647 V1954 H3639 M3378,1960 H3370 V2006 H3378 M3639,1960 H3647 V2006 H3639 M3378,2020 H3370 V2066 H3378 M3639,2020 H3647 V2066 H3639 M3378,2078 H3370 V2124 H3378 M3639,2078 H3647 V2124 H3639"/>
<text x="3378" y="1938" class="m">Mandatory requirement</text>
<text x="3378" y="1991" class="m">Minimum security requirement</text>
<text x="3378" y="2051" class="m">Optional recommendations</text>
<text x="3378" y="2109" class="m">Step by step procedures</text>
<ellipse cx="3078" cy="2235" rx="143" ry="70" fill="#76923c"/>
<text x="3078" y="2248" class="xl b w c">Identifying Threats</text>
<g stroke="#5b9bd5" stroke-width="3" fill="none">
<path d="M3221,2236 H3448" marker-end="url(#abb)"/>
<path d="M3093,2302 V2328 H3448" marker-end="url(#abb)"/>
<path d="M3005,2290 V2385 H3236" marker-end="url(#abb)"/>
</g>
<g stroke="#000" stroke-width="5"><line x1="3450" y1="2236" x2="3568" y2="2236"/><line x1="3450" y1="2328" x2="3568" y2="2328"/><line x1="3238" y1="2385" x2="3356" y2="2385"/></g>
<text x="3508" y="2206" class="s c">Focussed on</text><text x="3508" y="2227" class="s c">Software</text>
<text x="3508" y="2297" class="s c">Focussed on</text><text x="3508" y="2319" class="s c">Attackers</text>
<text x="3297" y="2356" class="s c">Focussed on</text><text x="3297" y="2377" class="s c">Assets</text>

<!-- ===== STRIDE / Threat modelling ===== -->
<path d="M3908,600 H4053 V380 Q4053,367 4066,367 H4173" stroke="#1f3864" stroke-width="3" fill="none"/>
<line x1="3810" y1="645" x2="3806" y2="675" stroke="#1f3864" stroke-width="3"/>
<ellipse cx="3810" cy="598" rx="98" ry="45" fill="#6b1414"/>
<text x="3810" y="591" class="m b w c" letter-spacing="6">STRIDE</text>
<text x="3810" y="620" class="m b i w c">Microsoft</text>
<path class="hb" stroke="#1f3864" d="M3518,685 V675 H4020 V685 M3518,918 V928 H4020 V918"/>
<text x="3525" y="708" class="m">Threat <tspan class="b">Categorisation</tspan> scheme</text>
<g class="m">
<text x="3530" y="765" class="m">•</text><text x="3562" y="765" class="m">Spoofing – unauth access</text>
<text x="3530" y="794" class="m">•</text><text x="3562" y="794" class="m">Tampering - Integrity</text>
<text x="3530" y="823" class="m">•</text><text x="3562" y="823" class="m">Repudiation – denial</text>
<text x="3530" y="852" class="m">•</text><text x="3562" y="852" class="m">Information disclosure – Confidentiality</text>
<text x="3530" y="882" class="m">•</text><text x="3562" y="882" class="m">DoS – Availability</text>
<text x="3530" y="911" class="m">•</text><text x="3562" y="911" class="m">Elevation of privilege</text>
</g>
<polygon points="4000,588 4083,671 4000,755 3917,671" fill="#76923c"/>
<text x="4000" y="666" class="b w c">Attacker</text><text x="4000" y="688" class="b w c">Focussed</text>
<path class="hb" stroke="#1f3864" d="M4105,18 V10 H4525 V18 M4105,267 V275 H4525 V267"/>
<text x="4114" y="39"><tspan class="b">Security Process</tspan> where threats are</text>
<text x="4118" y="63">•</text><text x="4150" y="63">Identified</text>
<text x="4118" y="87">•</text><text x="4150" y="87">Categorised, and</text>
<text x="4118" y="111">•</text><text x="4150" y="111">Analysed</text>
<text x="4114" y="159">Goal: <tspan class="b">Prioritise</tspan> the <tspan class="b">potential threats</tspan> against</text>
<text x="4114" y="183">organisation’s <tspan class="b">valuable assets</tspan></text>
<text x="4114" y="231">Proactive approach – Defensive approach</text>
<text x="4114" y="255">Reactive approach – Threat hunting</text>
<path class="hb" stroke="#1f3864" d="M4533,28 V20 H4832 V28 M4533,200 V208 H4832 V200"/>
<text x="4542" y="45">Visual, Agile and Simple Threat</text>
<text x="4542" y="93">Threat Modelling Concept that</text>
<text x="4542" y="117">integrates THREAT and RISK</text>
<text x="4542" y="141">MANAGEMENT into an AGILE</text>
<text x="4542" y="165">Programming environment on a</text>
<text x="4542" y="189">scalable basis</text>
<g stroke="#1f3864" stroke-width="3" fill="none">
<path d="M4315,275 V298 M4683,208 V262 M4459,367 H4480 V318 Q4480,310 4490,310 H4585 M4459,367 H4598 Q4607,367 4607,376 V414 M4668,505 V555 M4315,436 V700 M4315,795 V828"/>
</g>
<ellipse cx="4315" cy="367" rx="143" ry="70" fill="#76923c"/>
<text x="4315" y="378" class="xl b w c">Threat Modelling</text>
<ellipse cx="4683" cy="307" rx="98" ry="45" fill="#6b1414"/>
<text x="4683" y="316" class="m b w c" letter-spacing="6">VAST</text>
<ellipse cx="4668" cy="456" rx="98" ry="47" fill="#6b1414"/>
<text x="4668" y="449" class="m b w c" letter-spacing="6">SDL</text>
<text x="4668" y="478" class="m b i w c">Microsoft</text>
<path class="hb" stroke="#1f3864" d="M4458,563 V555 H4877 V563 M4458,784 V792 H4877 V784"/>
<polygon points="4838,410 4920,492 4838,575 4756,492" fill="#76923c"/>
<text x="4838" y="487" class="b w c">Software</text><text x="4838" y="510" class="b w c">Focussed</text>
<text x="4467" y="583">Motto: SD3+C = Secure by Design, Secure by</text>
<text x="4467" y="607">Default, Secure in Deployment and</text>
<text x="4467" y="631">Communication.</text>
<text x="4467" y="679">Two goals:</text>
<text x="4470" y="703">•</text><text x="4503" y="703">To reduce the number of security-related</text>
<text x="4503" y="727">design and coding defects</text>
<text x="4470" y="751">•</text><text x="4503" y="751">To reduce the severity of any remaining</text>
<text x="4503" y="775">defect</text>
<use href="#cl" x="4095" y="555" width="183" height="110" fill="#fff" stroke="#5b9bd5" stroke-width="0.8"/>
<ellipse cx="4187" cy="612" rx="72" ry="33" fill="#fff"/>
<text x="4188" y="612" class="b i c">Risk Centric</text>
<circle cx="4245" cy="668" r="7" fill="#fff" stroke="#5b9bd5" stroke-width="2"/><circle cx="4255" cy="678" r="4" fill="#fff" stroke="#5b9bd5" stroke-width="2"/><circle cx="4262" cy="687" r="2" fill="#5b9bd5"/>
<ellipse cx="4315" cy="747" rx="98" ry="47" fill="#6b1414"/>
<text x="4315" y="756" class="m b w c" letter-spacing="6">PASTA</text>
<path class="hb" stroke="#1f3864" d="M4070,836 V828 H4560 V836 M4070,1107 V1115 H4560 V1107"/>
<text x="4078" y="855">Process for Attack Simulation and Threat Analysis</text>
<text x="4078" y="903" class="b">Risk Centric</text>
<g>
<text x="4081" y="951">•</text><text x="4113" y="951">Stage1: <tspan class="b" fill="#e00">DO</tspan> Definition of the Objectives</text>
<text x="4081" y="975">•</text><text x="4113" y="975">Stage2: <tspan class="b" fill="#e00">DTS</tspan> Definition of Technical Scope</text>
<text x="4081" y="999">•</text><text x="4113" y="999">Stage3: <tspan class="b" fill="#e00">ADA</tspan> Application Decomposition and Analysis</text>
<text x="4081" y="1024">•</text><text x="4113" y="1024">Stage4: <tspan class="b" fill="#e00">TA</tspan> Threat Analysis</text>
<text x="4081" y="1048">•</text><text x="4113" y="1048">Stage5: <tspan class="b" fill="#e00">WVA</tspan> Weakness and Vulnerability Analysis</text>
<text x="4081" y="1072">•</text><text x="4113" y="1072">Stage6: <tspan class="b" fill="#e00">AMS</tspan> Attack Modelling and Simulation</text>
<text x="4081" y="1096">•</text><text x="4113" y="1096">Stage7: <tspan class="b" fill="#e00">RAM</tspan> Risk Analysis and Management</text>
</g>

<!-- ===== Reduction analysis ===== -->
<path d="M3875,1327 V1883 Q3875,1895 3888,1895 H3990 M3875,1398 Q3875,1410 3888,1410 H3990 M3875,1486 Q3875,1498 3888,1498 H3990 M3875,1578 Q3875,1590 3888,1590 H3990 M3875,1706 Q3875,1718 3888,1718 H3990" stroke="#76923c" stroke-width="4" fill="none"/>
<g fill="#76923c"><path d="M3988,1400 L4008,1410 L3988,1420z"/><path d="M3988,1488 L4008,1498 L3988,1508z"/><path d="M3988,1580 L4008,1590 L3988,1600z"/><path d="M3988,1708 L4008,1718 L3988,1728z"/><path d="M3988,1885 L4008,1895 L3988,1905z"/></g>
<ellipse cx="3876" cy="1257" rx="143" ry="70" fill="#76923c"/>
<text x="3876" y="1249" class="xl b w c">Reduction Analysis</text>
<text x="3876" y="1287" class="xl b w c">[Decomposing]</text>
<circle cx="4042" cy="1234" r="3" fill="#00b050"/><circle cx="4062" cy="1232" r="7" fill="#00b050"/><circle cx="4088" cy="1230" r="11" fill="#00b050"/>
<use href="#cl" x="4108" y="1135" width="227" height="170" fill="#00b050"/>
<text x="4220" y="1192" class="m b w c">We must</text>
<text x="4220" y="1221" class="m b w c">Identify 5</text>
<text x="4220" y="1250" class="m b w c">Key Points</text>
<g stroke="#000" stroke-width="5"><line x1="4008" y1="1410" x2="4115" y2="1410"/><line x1="4008" y1="1498" x2="4115" y2="1498"/><line x1="4008" y1="1590" x2="4115" y2="1590"/><line x1="4008" y1="1718" x2="4115" y2="1718"/><line x1="4008" y1="1895" x2="4115" y2="1895"/></g>
<g stroke="#7030a0" stroke-width="2"><line x1="4115" y1="1410" x2="4145" y2="1410"/><line x1="4115" y1="1498" x2="4145" y2="1498"/><line x1="4115" y1="1590" x2="4145" y2="1590"/><line x1="4115" y1="1718" x2="4145" y2="1718"/><line x1="4115" y1="1895" x2="4145" y2="1895"/></g>
<text x="4008" y="1377" class="s">1. Trust</text><text x="4008" y="1398" class="s">Boundaries</text>
<text x="4008" y="1468" class="s">2. Dataflow</text><text x="4008" y="1489" class="s">paths</text>
<text x="4008" y="1580" class="s">3. Input Points</text>
<text x="4008" y="1687" class="s">4. Privileged</text><text x="4008" y="1708" class="s">Operations</text>
<text x="4008" y="1820" class="s">5. Details</text><text x="4008" y="1842" class="s">about Security</text><text x="4008" y="1863" class="s">Stance and</text><text x="4008" y="1885" class="s">Approach</text>
<path class="vb" stroke="#7030a0" d="M4153,1373 H4145 V1442 H4153 M4414,1373 H4422 V1442 H4414 M4153,1463 H4145 V1533 H4153 M4414,1463 H4422 V1533 H4414 M4153,1555 H4145 V1623 H4153 M4414,1555 H4422 V1623 H4414 M4153,1637 H4145 V1798 H4153 M4414,1637 H4422 V1798 H4414 M4153,1848 H4145 V1942 H4153 M4414,1848 H4422 V1942 H4414"/>
<text x="4153" y="1401">Any location where the level of</text>
<text x="4153" y="1425">trust or security changes</text>
<text x="4153" y="1491">The movement of data between</text>
<text x="4153" y="1515">locations</text>
<text x="4153" y="1582">Location where external input is</text>
<text x="4153" y="1606">received</text>
<text x="4153" y="1663">Any activity that require greater</text>
<text x="4153" y="1687">privileges than of a standard</text>
<text x="4153" y="1711">user account or process,</text>
<text x="4153" y="1735">typically required to make</text>
<text x="4153" y="1759"><tspan class="b">system changes</tspan> or alter</text>
<text x="4153" y="1783" class="b">security</text>
<text x="4153" y="1875">The declaration of security</text>
<text x="4153" y="1899">policy, security foundations,</text>
<text x="4153" y="1923">and security assumptions</text>

<!-- ===== SCRM ===== -->
<ellipse cx="4730" cy="1188" rx="143" ry="70" fill="#76923c"/>
<text x="4730" y="1180" class="l b w c" style="font-size:27px">Supply Chain Risk</text>
<text x="4730" y="1218" class="l b w c" style="font-size:27px">Management</text>
<line x1="4730" y1="1258" x2="4730" y2="1303" stroke="#1f3864" stroke-width="3"/>
<path class="hb" stroke="#1f3864" d="M4537,1311 V1303 H4922 V1311 M4537,1968 V1976 H4922 V1968"/>
<g>
<text x="4547" y="1333">SCRM is the means to ensure:</text>
<text x="4547" y="1381">1. that all of the vendors or links in the</text>
<text x="4547" y="1405">supply chain are <tspan class="b">RELIABLE</tspan>, <tspan class="b">TRUSTWORTHY</tspan>,</text>
<text x="4547" y="1429"><tspan class="b">REPUTABLE</tspan> organisations</text>
<text x="4547" y="1453">2. that <tspan class="b">DISCLOSE</tspan> their <tspan class="b">PRACTICES</tspan> and</text>
<text x="4547" y="1477"><tspan class="b">SECURITY</tspan> requirements to their Business</text>
<text x="4547" y="1501">Partners</text>
<text x="4547" y="1549"><tspan class="b">Each link</tspan> in the chain should be responsible</text>
<text x="4547" y="1573">and accountable to the NEXT LINK in the</text>
<text x="4547" y="1597">chain</text>
<text x="4547" y="1645"><tspan class="b">Each HANDOFF</tspan> is properly ORGANISED,</text>
<text x="4547" y="1669">DOCUMENTED, MANAGED and AUDITED</text>
<text x="4547" y="1717">GOAL: Ensure</text>
<text x="4547" y="1741">1. that the finished product is of sufficient</text>
<text x="4547" y="1765" class="b">QUALITY,</text>
<text x="4547" y="1789">2. meets <tspan class="b">PERFORMANCE</tspan> and <tspan class="b">OPERATIONAL</tspan></text>
<text x="4547" y="1812">goals,</text>
<text x="4547" y="1836">3. and provides stated <tspan class="b">SECURITY</tspan></text>
<text x="4547" y="1860">mechanism,</text>
<text x="4547" y="1884">4. and that at no point in the process was</text>
<text x="4547" y="1908">any element <tspan class="b">COUNTERFEITED</tspan></text>
<text x="4547" y="1932">5. or subject to <tspan class="b">UNAUTHORISED</tspan> or</text>
<text x="4547" y="1956"><tspan class="b">MALICIOUS</tspan> manipulation or <tspan class="b">SABOTAGE</tspan></text>
</g>

<!-- ===== DREAD ===== -->
<ellipse cx="3918" cy="2187" rx="98" ry="47" fill="#6b1414"/>
<text x="3918" y="2196" class="m b w c" letter-spacing="6">DREAD</text>
<line x1="4016" y1="2187" x2="4068" y2="2187" stroke="#f0a030" stroke-width="3"/>
<path class="vb" stroke="#f0a030" d="M4076,2017 H4068 V2357 H4076 M4512,2017 H4520 V2357 H4512"/>
<text x="4078" y="2049" class="m">DREAD is a <tspan class="b">RISK RATING SYSTEM</tspan></text>
<g>
<text x="4082" y="2106" class="m">•</text><text x="4113" y="2106" class="m">Disaster – Damage <tspan class="b">Potential</tspan>. How</text>
<text x="4113" y="2135" class="m b">Severe<tspan font-weight="normal">?</tspan></text>
<text x="4082" y="2164" class="m">•</text><text x="4113" y="2164" class="m">Reproducibility – How <tspan class="b">complicated</tspan> it is</text>
<text x="4113" y="2193" class="m">for attacker to <tspan class="b">reproduce</tspan> the exploit?</text>
<text x="4082" y="2222" class="m">•</text><text x="4113" y="2222" class="m">Exploitability – <tspan class="b">How hard</tspan> is to perform</text>
<text x="4113" y="2251" class="m">the Attack?</text>
<text x="4082" y="2280" class="m">•</text><text x="4113" y="2280" class="m">Affected Users – % Users affected</text>
<text x="4082" y="2309" class="m">•</text><text x="4113" y="2309" class="m">Discoverability – How hard is it for an</text>
<text x="4113" y="2338" class="m">attacker to discover the <tspan class="b">weakness</tspan>?</text>
</g>
<text x="4790" y="2414" class="s b">©Rashid Siddiqui</text>
</svg>
</body></html>
